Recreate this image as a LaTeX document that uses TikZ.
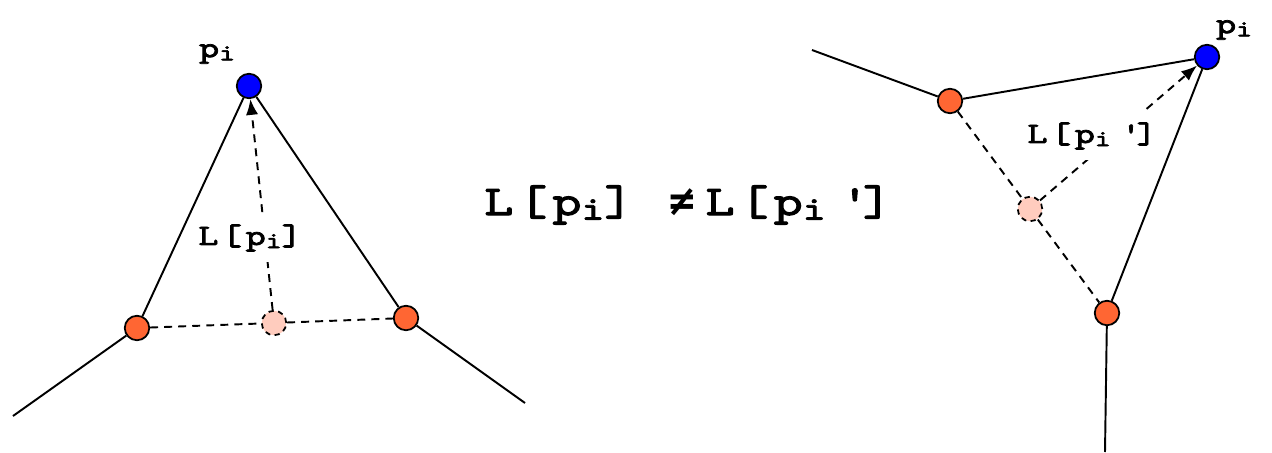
\documentclass[tikz,border=0pt]{standalone}
\usepackage{fontspec}
\usetikzlibrary{arrows.meta}
\newfontfamily\courb{lmmono10-regular.otf}[FakeBold=2.5,FakeStretch=1.3,LetterSpace=12]
\newfontfamily\symb{DejaVu Sans Mono Bold}
\definecolor{blueV}{RGB}{0,0,255}
\definecolor{orangeV}{RGB}{255,102,51}
\definecolor{pinkV}{RGB}{255,204,190}
\newcommand{\pis}{p\raisebox{-0.25ex}{\fontsize{0.78em}{0.78em}\selectfont i}}
\newcommand{\pisp}{\pis\hspace{0.35em}\textquotesingle}
\begin{document}
\begin{tikzpicture}[x=0.02cm,y=-0.02cm,
  vtx/.style={circle,draw=black,line width=1pt,minimum size=0.49cm,inner sep=0pt},
  bluev/.style={vtx,fill=blueV},
  orangev/.style={vtx,fill=orangeV},
  pinkv/.style={vtx,fill=pinkV,dash pattern=on 3pt off 2.5pt},
  edge/.style={line width=1.1pt},
  dedge/.style={line width=1.1pt,dash pattern=on 4.5pt off 3.5pt},
  arr/.style={dedge,-{Latex[length=9pt,width=7pt]}},
  lab/.style={font=\courb\fontsize{16.8}{20}\selectfont,inner sep=1pt},
  biglab/.style={font=\courb\fontsize{24.2}{28}\selectfont,inner sep=0pt}]
\useasboundingbox (0,0) rectangle (1272,453);
% left figure
\node[bluev] (b1) at (249,86) {};
\node[orangev] (o1) at (137,328) {};
\node[orangev] (o2) at (406,318) {};
\node[pinkv] (k1) at (274,323) {};
\coordinate (e1) at (13,416);
\coordinate (e2) at (525,403);
\draw[edge] (o1) -- (e1);
\draw[edge] (o2) -- (e2);
\draw[edge] (o1) -- (b1);
\draw[edge] (o2) -- (b1);
\draw[dedge] (o1) -- (k1);
\draw[dedge] (k1) -- (o2);
\draw[arr] (k1) -- (b1);
\node[lab,fill=white,inner xsep=2pt,inner ysep=6pt] (l1) at (250,238) {L[\pis]};
\node[lab] (t1) at (217,54) {\pis};
% middle
\node[biglab] (m) at (688,205) {L[\pis]\hspace{0.85em}{\symb ≠}\hspace{0.25em}L[\pisp]};
% right figure
\node[bluev] (b2) at (1207,57) {};
\node[orangev] (o3) at (950,101) {};
\node[orangev] (o4) at (1107,313) {};
\node[pinkv] (k2) at (1030,209) {};
\coordinate (e3) at (812,50);
\coordinate (e4) at (1105,452);
\draw[edge] (o3) -- (e3);
\draw[edge] (o4) -- (e4);
\draw[edge] (o3) -- (b2);
\draw[edge] (o4) -- (b2);
\draw[dedge] (o3) -- (k2);
\draw[dedge] (k2) -- (o4);
\draw[arr] (k2) -- (b2);
\node[lab,fill=white,inner xsep=2pt,inner ysep=6pt] (l2) at (1092,136) {L[\pisp]};
\node[lab] (t2) at (1234,30) {\pis};
\end{tikzpicture}
\end{document}
